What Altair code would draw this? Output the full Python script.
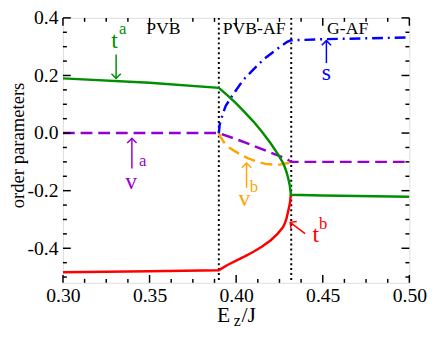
import altair as alt
import pandas as pd

# ---------------- data ----------------
ta_x = [0.30, 0.35, 0.39, 0.395, 0.40, 0.405, 0.41, 0.415, 0.42, 0.424, 0.427, 0.428, 0.429, 0.430, 0.431, 0.4316, 0.45, 0.50]
ta_y = [0.190, 0.175, 0.157, 0.131, 0.103, 0.072, 0.040, 0.004, -0.036, -0.072, -0.103, -0.117, -0.134, -0.155, -0.183, -0.214, -0.217, -0.221]

tb_x = [0.30, 0.35, 0.39, 0.395, 0.40, 0.405, 0.41, 0.415, 0.42, 0.424, 0.427, 0.428, 0.429, 0.430, 0.431, 0.4316]
tb_y = [-0.483, -0.480, -0.476, -0.458, -0.443, -0.428, -0.412, -0.394, -0.372, -0.349, -0.327, -0.315, -0.298, -0.272, -0.245, -0.214]

s_x = [0.39, 0.3905, 0.3915, 0.3925, 0.394, 0.398, 0.404, 0.41, 0.416, 0.423, 0.4295, 0.4316, 0.45, 0.50]
s_y = [0.0, 0.030, 0.050, 0.070, 0.095, 0.132, 0.184, 0.221, 0.257, 0.289, 0.317, 0.322, 0.326, 0.332]

va_x = [0.30, 0.39, 0.40, 0.41, 0.42, 0.4293, 0.4316, 0.45, 0.50]
va_y = [0.0, 0.0, -0.021, -0.044, -0.068, -0.090, -0.100, -0.100, -0.100]

vb_x = [0.39, 0.391, 0.3933, 0.396, 0.399, 0.403, 0.4066, 0.412, 0.417, 0.4237, 0.4293, 0.4316]
vb_y = [0.0, -0.014, -0.034, -0.050, -0.062, -0.076, -0.087, -0.099, -0.107, -0.111, -0.105, -0.100]

transitions = [0.39, 0.4318]

x_major = [0.30, 0.35, 0.40, 0.45, 0.50]
x_minor = [0.3125, 0.325, 0.3375, 0.3625, 0.375, 0.3875, 0.4125, 0.425, 0.4375,
           0.4625, 0.475, 0.4875]
y_major = [-0.4, -0.2, 0.0, 0.2, 0.4]
y_minor = [-0.5, -0.45, -0.35, -0.3, -0.25, -0.15, -0.1, -0.05, 0.05, 0.1, 0.15,
           0.25, 0.3, 0.35]

region_text = ["PVB", "PVB-AF", "G-AF"]
region_x = [0.358, 0.4104, 0.4644]
region_y = [0.345, 0.345, 0.345]

# arrows: tail -> head
arrow_x0 = [0.3307, 0.3398, 0.4060, 0.4521, 0.4398]
arrow_y0 = [0.273, -0.123, -0.190, 0.243, -0.349]
arrow_x1 = [0.3307, 0.3398, 0.4060, 0.4521, 0.4312]
arrow_y1 = [0.190, -0.018, -0.104, 0.321, -0.310]
arrow_angle = [180, 0, 0, 0, 308]
arrow_color = ["#008f00", "#9400d3", "#ffa500", "#0000ff", "#ff0000"]

# annotation letters (main) and indices
main_text = ["t", "v", "v", "t", "s"]
main_x = [0.3298, 0.3393, 0.4048, 0.4459, 0.4521]
main_y = [0.294, -0.194, -0.254, -0.377, 0.185]
main_color = ["#008f00", "#9400d3", "#ffa500", "#ff0000", "#0000ff"]
idx_text = ["a", "a", "b", "b"]
idx_x = [0.3345, 0.3460, 0.4102, 0.4502]
idx_y = [0.344, -0.116, -0.205, -0.332]
idx_color = ["#008f00", "#9400d3", "#ffa500", "#ff0000"]

# ---------------- layout ----------------
W, H = 353, 270
FONT = "Liberation Serif"

xscale = alt.Scale(domain=[0.30, 0.50], nice=False, zero=False)
yscale = alt.Scale(domain=[-0.52, 0.40], nice=False, zero=False)
xaxis = alt.Axis(values=x_major, format=".2f", labelFont=FONT, labelFontSize=20,
                 labelColor="black", ticks=False, tickSize=0, domain=False, grid=False,
                 title=None, labelPadding=3, labelFlush=False, labelOverlap=False,
                 labelBound=False)
yaxis = alt.Axis(values=y_major, labelFont=FONT, labelFontSize=20, labelColor="black",
                 ticks=False, tickSize=0, domain=False, grid=False, title=None,
                 labelPadding=5, labelOverlap=False, labelFlush=False,
                 labelExpr="datum.value < 0 ? '-' + format(abs(datum.value), '.1f') : format(datum.value, '.1f')")


def X(field="x"):
    return alt.X(f"{field}:Q", scale=xscale, axis=xaxis)


def Y(field="y"):
    return alt.Y(f"{field}:Q", scale=yscale, axis=yaxis)


def line(xs, ys, color, dash=None):
    df = pd.DataFrame({"x": xs, "y": ys, "o": list(range(len(xs)))})
    kw = dict(color=color, strokeWidth=2.5, clip=True)
    if dash:
        kw["strokeDash"] = dash
    return alt.Chart(df).mark_line(**kw).encode(x=X(), y=Y(), order="o:Q")


layers = []

# dotted phase boundaries
layers.append(
    alt.Chart(pd.DataFrame({"x": transitions})).mark_rule(
        color="black", strokeWidth=2, strokeDash=[2, 3]
    ).encode(x=X(), y=alt.value(0), y2=alt.value(H))
)

layers.append(line(va_x, va_y, "#9400d3", [12, 6]))
layers.append(line(vb_x, vb_y, "#ffa500", [12, 6]))
layers.append(line(s_x, s_y, "#0000ff", [11, 5, 2, 5]))
layers.append(line(tb_x, tb_y, "#ff0000"))
layers.append(line(ta_x, ta_y, "#008f00"))

# ticks (inward, all four sides)
xt_maj = pd.DataFrame({"x": x_major})
xt_min = pd.DataFrame({"x": x_minor})
yt_maj = pd.DataFrame({"y": y_major})
yt_min = pd.DataFrame({"y": y_minor})
for df, L in [(xt_maj, 8), (xt_min, 4)]:
    layers.append(alt.Chart(df).mark_rule(color="black", strokeWidth=1.5).encode(
        x=X(), y=alt.value(H), y2=alt.value(H - L)))
    layers.append(alt.Chart(df).mark_rule(color="black", strokeWidth=1.5).encode(
        x=X(), y=alt.value(0), y2=alt.value(L)))
for df, L in [(yt_maj, 8), (yt_min, 4)]:
    layers.append(alt.Chart(df).mark_rule(color="black", strokeWidth=1.5).encode(
        y=Y(), x=alt.value(0), x2=alt.value(L)))
    layers.append(alt.Chart(df).mark_rule(color="black", strokeWidth=1.5).encode(
        y=Y(), x=alt.value(W), x2=alt.value(W - L)))

# region labels
layers.append(
    alt.Chart(pd.DataFrame({"x": region_x, "y": region_y, "t": region_text})).mark_text(
        font=FONT, fontSize=18, color="black", baseline="alphabetic", align="center"
    ).encode(x=X(), y=Y(), text="t:N")
)

# arrows
arr = pd.DataFrame({"x": arrow_x0, "y": arrow_y0, "x2": arrow_x1, "y2": arrow_y1,
                    "a": arrow_angle, "c": arrow_color})
layers.append(alt.Chart(arr).mark_rule(strokeWidth=1.5).encode(
    x=X(), y=Y(), x2="x2:Q", y2="y2:Q", color=alt.Color("c:N", scale=None)))
layers.append(alt.Chart(arr).mark_point(
    shape="M-1,1L0,0L1,1", filled=False, size=90, strokeWidth=1.5, opacity=1
).encode(x=X("x2"), y=Y("y2"), angle=alt.Angle("a:Q", scale=None),
         color=alt.Color("c:N", scale=None)))

# annotation letters
layers.append(
    alt.Chart(pd.DataFrame({"x": main_x, "y": main_y, "t": main_text, "c": main_color})).mark_text(
        font=FONT, fontSize=24, baseline="alphabetic", align="center"
    ).encode(x=X(), y=Y(), text="t:N", color=alt.Color("c:N", scale=None))
)
layers.append(
    alt.Chart(pd.DataFrame({"x": idx_x, "y": idx_y, "t": idx_text, "c": idx_color})).mark_text(
        font=FONT, fontSize=17, baseline="alphabetic", align="center"
    ).encode(x=X(), y=Y(), text="t:N", color=alt.Color("c:N", scale=None))
)

# axis titles drawn as text
dummy = pd.DataFrame({"k": [0]})
layers.append(alt.Chart(dummy).mark_text(
    font=FONT, fontSize=19, color="black", angle=270, align="center", baseline="alphabetic"
).encode(x=alt.value(-40), y=alt.value(130), text=alt.value("order parameters")))
layers.append(alt.Chart(dummy).mark_text(
    font=FONT, fontSize=22, color="black", align="left", baseline="alphabetic"
).encode(x=alt.value(157), y=alt.value(310), text=alt.value("E")))
layers.append(alt.Chart(dummy).mark_text(
    font=FONT, fontSize=16, color="black", align="left", baseline="alphabetic"
).encode(x=alt.value(174), y=alt.value(314), text=alt.value("z")))
layers.append(alt.Chart(dummy).mark_text(
    font=FONT, fontSize=22, color="black", align="left", baseline="alphabetic"
).encode(x=alt.value(182), y=alt.value(310), text=alt.value("/J")))

chart = alt.layer(*layers).properties(
    width=W, height=H,
    autosize=alt.AutoSizeParams(type="none"),
    padding={"left": 56, "top": 7, "right": 19, "bottom": 45},
).configure_view(
    stroke="black", strokeWidth=2.5
).configure_axis(
    labelFont=FONT, labelFontSize=20, labelColor="black"
).configure(background="white", font=FONT)

chart.save("out.html", embed_options={"renderer": "svg", "actions": False})
